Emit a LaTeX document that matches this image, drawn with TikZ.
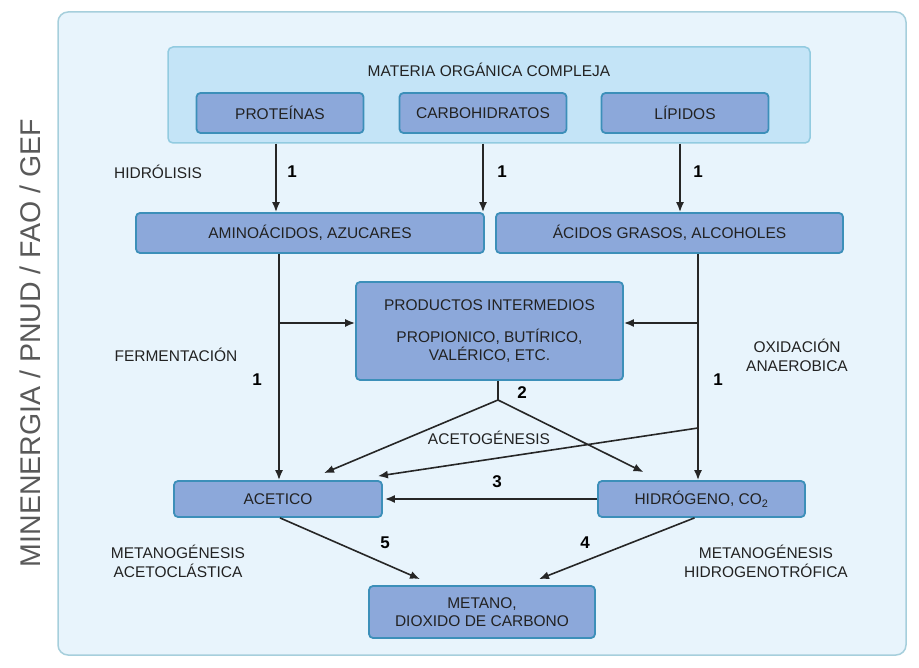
\documentclass[tikz,border=0pt]{standalone}
\usepackage{fontspec}
\setmainfont{Liberation Sans}
\usepackage{tikz}
\usetikzlibrary{arrows.meta,positioning}

\definecolor{panelfill}{HTML}{E8F4FC}
\definecolor{paneldraw}{HTML}{A6CFDC}
\definecolor{topfill}{HTML}{C4E4F7}
\definecolor{topdraw}{HTML}{92CBE0}
\definecolor{boxfill}{HTML}{8CA8DA}
\definecolor{boxdraw}{HTML}{3C8FB9}
\definecolor{txt}{HTML}{222222}

\begin{document}
\begin{tikzpicture}[x=1pt,y=-1pt,>={Latex[length=10pt,width=8pt]},
  box/.style={draw=boxdraw,fill=boxfill,line width=1.8pt,rounded corners=4pt,text=txt,
    font=\fontsize{15.5}{18}\selectfont,align=center,inner sep=0pt},
  lbl/.style={text=txt,font=\fontsize{15.5}{19}\selectfont,align=center},
  num/.style={text=black,font=\fontsize{17}{18}\selectfont\bfseries},
  flow/.style={line width=1.6pt,draw=black!85}]
\useasboundingbox (0,0) rectangle (919,668);
%\draw[step=50,gray,very thin] (0,0) grid (919,668);
\draw[fill=panelfill,draw=paneldraw,line width=1.5pt,rounded corners=10pt] (58,12) rectangle (906,655);
\node[rotate=90,text=black!65,font=\fontsize{28.5}{30}\selectfont] (src) at (30,343) {MINENERGIA / PNUD / FAO / GEF};

% materia organica
\node[draw=topdraw,fill=topfill,line width=1.5pt,rounded corners=5pt,minimum width=642pt,minimum height=96pt] (mat) at (489,95) {};
\node[lbl] (mattitle) at (489,70) {MATERIA ORGÁNICA COMPLEJA};
\node[box,minimum width=167pt,minimum height=40pt] (prot) at (280,113) {PROTEÍNAS};
\node[box,minimum width=167pt,minimum height=40pt] (carb) at (483,113) {CARBOHIDRATOS};
\node[box,minimum width=167pt,minimum height=40pt] (lip) at (685,113) {LÍPIDOS};

\node[box,minimum width=348pt,minimum height=40pt] (amino) at (310,233) {AMINOÁCIDOS, AZUCARES};
\node[box,minimum width=347pt,minimum height=40pt] (acidos) at (669.5,233) {ÁCIDOS GRASOS, ALCOHOLES};

\node[box,minimum width=267pt,minimum height=98pt] (prod) at (489.5,331) {PRODUCTOS INTERMEDIOS\\[14pt]PROPIONICO, BUTÍRICO,\\VALÉRICO, ETC.};

\node[box,minimum width=208pt,minimum height=36pt] (acet) at (278,499) {ACETICO};
\node[box,minimum width=207pt,minimum height=36pt] (hidro) at (701.5,499) {HIDRÓGENO, CO\textsubscript{2}};
\node[box,minimum width=226pt,minimum height=52pt] (metano) at (482,612) {METANO,\\DIOXIDO DE CARBONO};

% hidrolisis
\draw[flow,->] (mat.south -| 276,0) -- (amino.north -| 276,0);
\draw[flow,->] (mat.south -| carb) -- (carb |- amino.north);
\draw[flow,->] (mat.south -| 680,0) -- (acidos.north -| 680,0);
\node[lbl] (hidrolisis) at (158,172) {HIDRÓLISIS};
\node[num] (n1a) at (292,172) {1};
\node[num] (n1b) at (502,172) {1};
\node[num] (n1c) at (698,172) {1};

% fermentacion / oxidacion
\coordinate (jl) at (279,323);
\coordinate (jr) at (698,323);
\coordinate (jx) at (698,428);
\draw[flow,->] (amino.south -| jl) -- (acet.north -| jl);
\draw[flow,->] (acidos.south -| jr) -- (hidro.north -| jr);
\draw[flow,->] (jl) -- (prod.west |- jl);
\draw[flow,->] (jr) -- (prod.east |- jr);
\node[lbl] (ferm) at (176,355) {FERMENTACIÓN};
\node[lbl] (oxid) at (797,355) {OXIDACIÓN\\ANAEROBICA};
\node[num] (n1d) at (257,380) {1};
\node[num] (n1e) at (718,380) {1};

% acetogenesis
\coordinate (split) at (498,400);
\draw[flow] (prod.south -| split) -- (split);
\draw[flow,->] (split) -- ([xshift=46pt,yshift=7pt]acet.north);
\draw[flow,->] (split) -- ([xshift=-58pt,yshift=8pt]hidro.north);
\draw[flow,->] (jx) -- ([xshift=-5pt,yshift=4pt]acet.north east);
\node[lbl] (acetog) at (489,438) {ACETOGÉNESIS};
\node[num] (n2) at (522,393) {2};

\draw[flow,->] (hidro.west) -- ([xshift=2pt]acet.east);
\node[num] (n3) at (497,482) {3};

% metanogenesis
\draw[flow,->] ([xshift=2pt]acet.south) -- ([xshift=-62pt,yshift=6pt]metano.north);
\draw[flow,->] ([xshift=-7pt]hidro.south) -- ([xshift=57pt,yshift=6pt]metano.north);
\node[num] (n5) at (385,543) {5};
\node[num] (n4) at (585,543) {4};
\node[lbl] (acetoc) at (178,561) {METANOGÉNESIS\\ACETOCLÁSTICA};
\node[lbl] (hidrog) at (766,561) {METANOGÉNESIS\\HIDROGENOTRÓFICA};
\end{tikzpicture}
\end{document}
